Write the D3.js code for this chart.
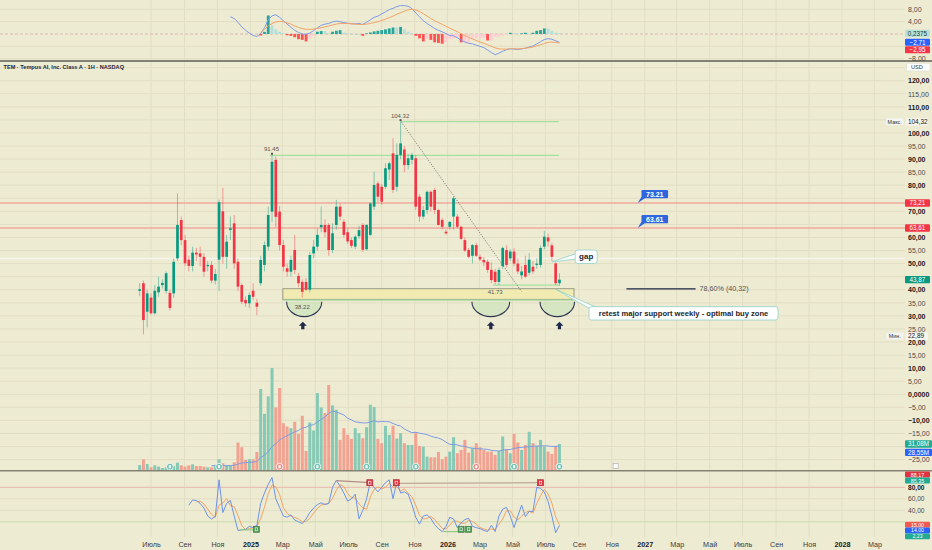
<!DOCTYPE html>
<html><head><meta charset="utf-8">
<script src="https://cdn.jsdelivr.net/npm/d3@7/dist/d3.min.js"></script>
<style>
html,body{margin:0;padding:0;background:#EEEBD3;}
svg{display:block;font-family:"Liberation Sans",Arial,sans-serif;}
</style></head>
<body><svg id="c" width="932" height="550"></svg>
<script>
// ---------------- DATA ----------------
const firstWeek = "2024-06-10";
const open = [39.6,42.5,31.6,37.0,31.0,39.0,41.8,39.5,38.8,38.6, 52.0,66.7,59.0,51.5,49.1,54.2,53.9,52.6,49.0,49.5, 43.5,51.5,70.0,52.6,62.9,65.4,50.7,41.8,36.1,34.8, 39.6,35.0,42.5,49.5,56.5,69.9,89.7,69.9,57.1,48.2, 46.9,55.2,45.3,43.0,43.0,40.0,53.9,56.5,63.9,64.8, 64.8,55.2,64.8,71.8,66.0,62.0,59.0,56.5,60.5,64.8, 55.5,61.0,71.8,80.7,79.4,79.4,86.0,92.2,79.4,91.6, 93.7,87.7,89.7,90.3,75.6,68.0,70.5,77.5,78.2,70.5, 66.7,62.2,64.1,68.0,68.0,64.1,59.0,55.2,53.0,57.1, 52.6,51.4,50.7,47.6,46.9,43.0,49.0,55.2,52.0,54.6, 50.0,45.5,49.5,46.5,48.8,49.5,49.5,56.5,60.0,57.0, 50.1,42.5];
const high = [42.5,43.5,40.0,38.6,41.8,45.0,44.0,47.0,40.0,52.0, 76.9,68.0,61.0,53.0,56.5,56.0,56.5,54.0,51.0,51.0, 48.0,74.5,79.0,61.0,68.0,68.6,52.0,42.5,37.5,39.0, 42.5,36.5,53.0,58.5,71.8,91.45,91.0,72.0,59.0,50.0, 53.0,61.0,46.5,44.0,44.5,54.5,59.0,63.5,71.8,67.0, 65.5,65.4,74.4,73.0,67.0,63.5,60.0,61.0,64.5,65.5, 65.0,73.5,85.2,81.5,80.5,88.4,89.0,98.0,96.0,104.32, 95.0,92.0,92.5,91.5,76.5,72.0,78.0,78.0,79.0,71.0, 67.5,63.0,66.0,75.8,69.0,64.5,60.0,56.0,57.5,58.0, 53.5,52.5,51.5,50.5,48.0,48.5,56.5,57.0,55.5,56.0, 52.0,49.0,53.0,54.0,51.0,52.0,57.0,62.5,61.5,58.0, 50.5,46.3];
const low = [37.5,22.9,25.5,30.5,30.5,37.3,40.5,38.5,32.0,37.0, 51.0,57.0,49.0,47.0,47.0,51.0,49.0,45.0,47.0,42.5, 42.0,39.5,50.0,48.0,59.0,48.0,39.5,34.5,33.5,33.0, 36.0,30.3,41.5,47.0,55.0,66.0,64.0,55.0,47.0,45.0, 45.0,46.0,41.0,37.0,39.5,39.0,52.0,55.0,62.0,60.0, 53.0,54.0,63.0,66.5,60.0,57.5,56.0,55.5,59.5,54.5, 55.0,60.5,70.5,73.5,72.5,78.5,82.0,77.0,77.5,90.0, 85.0,86.0,88.0,70.5,66.0,67.0,69.0,70.0,69.0,64.5, 63.0,61.0,63.0,63.0,63.5,59.0,54.5,52.0,50.1,52.5, 51.0,49.0,46.5,42.5,42.0,41.73,48.0,48.5,51.0,49.0, 46.0,44.0,44.5,45.5,46.0,48.0,48.5,55.5,56.5,51.0, 41.8,41.5];
const close = [40.2,28.4,38.6,31.0,39.6,41.2,42.6,46.3,33.0,50.7, 64.8,59.0,50.1,49.1,54.2,53.5,52.6,46.9,49.5,43.5, 46.0,73.5,52.6,58.4,63.5,50.1,41.2,35.4,34.8,38.0, 37.3,33.5,51.4,57.1,68.6,89.0,67.9,57.1,48.8,46.9, 51.4,47.6,42.5,39.2,40.0,53.3,56.5,61.0,64.8,62.0, 55.2,61.6,71.8,68.0,61.0,58.5,56.8,60.3,62.8,55.3, 64.8,73.0,80.1,75.6,73.7,86.5,88.4,78.2,91.6,96.0, 87.7,90.3,91.6,71.8,68.0,70.5,77.5,71.8,70.5,64.8, 64.1,61.6,66.0,75.0,64.1,59.5,55.0,52.6,57.1,53.0, 51.6,50.5,47.6,43.7,43.0,47.6,56.0,49.5,54.6,50.0, 47.0,47.0,45.0,51.5,47.0,50.0,56.0,60.3,58.5,52.6, 42.5,43.87];
const volumeM = [6.0,12.8,7.2,3.2,5.6,4.0,2.4,3.2,3.2,4.8, 8.8,5.6,4.0,5.6,6.8,4.8,4.8,4.0,3.2,3.2, 6.0,12.8,8.0,6.0,5.6,9.2,32.8,27.2,12.0,12.8, 12.8,21.6,96.8,67.2,88.0,122.0,74.8,98.0,56.0,52.0, 50.0,57.6,43.2,64.8,22.8,56.8,47.2,92.0,74.8,68.0, 101.6,77.2,72.0,36.0,50.0,42.0,37.2,50.0,44.0,38.0, 51.2,78.0,75.2,37.2,32.0,52.8,42.0,52.8,37.6,44.0, 32.0,30.0,30.0,45.2,28.8,28.0,16.0,15.2,15.2,21.6, 12.8,16.0,22.0,39.2,20.0,24.0,36.0,20.8,26.4,32.0, 27.2,24.0,22.0,22.0,18.0,22.8,40.0,24.8,20.0,43.2, 32.8,24.0,30.0,45.6,32.0,28.8,36.0,28.0,22.0,19.2, 28.8,31.08];
// MACD (starts week 24), signal & histogram (start week 32)
const macdStart = 24;
const macdLine = [5.6,5.0,3.8,2.3,1.2,0.3,-0.5,-0.8, 0.2,2.0,4.6,5.9,6.2,5.4,4.3,3.2,2.2,1.2, 0.5,0.0,-0.1,0.3,1.1,2.0,2.8,3.2,3.4,3.9, 4.2,4.0,3.7,3.5,3.3,3.3,3.4,3.1,3.8,4.6, 5.4,5.8,6.5,7.2,7.9,8.3,8.9,9.2,9.2,9.0, 8.2,6.8,5.6,4.3,3.4,2.6,1.8,1.2,0.7,0.1, -0.5,-0.6,-1.2,-2.0,-2.6,-3.0,-3.2,-3.6,-4.0,-4.4, -5.2,-6.0,-6.7,-6.2,-5.6,-5.1,-4.8,-4.9,-5.0,-4.8, -4.6,-4.2,-3.9,-3.2,-2.5,-1.8,-1.5,-1.7,-2.2,-2.71];
const signalStart = 32;
const macdSignal = [0.6,1.5,2.6,3.4,3.9,4.1,4.0,3.6,3.2,2.6, 2.1,1.8,1.5,1.5,1.6,1.8,2.0,2.3,2.6,2.9, 3.2,3.4,3.4,3.4,3.3,3.2,3.1,3.1,3.2,3.4, 3.7,4.0,4.4,4.8,5.3,5.8,6.4,6.9,7.4,7.8, 8.0,7.8,7.3,6.6,5.8,5.0,4.3,3.7,3.1,2.5, 1.9,1.3,0.8,0.1,-0.5,-1.1,-1.6,-2.1,-2.6,-3.0, -3.5,-4.0,-4.5,-4.8,-4.9,-4.9,-4.8,-4.8,-4.8,-4.8, -4.6,-4.4,-4.2,-3.8,-3.5,-3.1,-2.7,-2.6,-2.7,-2.95];
const macdHist = [-0.5,0.7,6.0,2.8,1.5,0.7,0.2,-0.4,-0.6,-1.05, -1.7,-1.9,-2.4,-1.4,-0.6,0.74,0.95,0.95,0.2,0.74, 1.05,1.26,0.4,0.2,0.1,0.05,0.0,-0.6,0.2,0.5, 0.84,1.05,1.26,1.5,1.8,2.1,2.1,2.3,1.5,0.74, 0.2,-0.6,-1.4,-2.4,-1.5,-1.9,-2.7,-2.9,-3.15,-2.7, -1.7,-1.4,-0.9,-2.7,-2.7,-2.7,-1.4,-1.4,-1.4,-1.2, -2.1,-2.1,-0.84,-0.84,-0.6,-0.3,0.4,0.3,0.1,0.2, 0.4,0.1,0.4,1.05,1.26,1.8,1.8,1.05,0.4,0.2375];
// Stochastic %K (starts week 13)
const stochStart = 13;
const stochK = [49,58,57,52,44,30,25,29,93,36, 52,57,30,5,6,7,12,10,14,52, 70,85,97,60,45,30,28,32,23,20, 17,25,36,44,50,53,50,52,80,92, 82,70,56,60,68,25,40,60,90,80, 72,80,88,93,60,90,70,72,68,50, 28,16,30,32,26,15,8,3,12,28, 25,10,18,24,26,12,10,8,5,3, 14,3,30,42,45,30,10,30,49,29, 38,38,80,78,72,55,30,1,14];
// axis labels
const monthTicks = ["2024-07-01","2024-09-01","2024-11-01","2025-01-01","2025-03-01","2025-05-01","2025-07-01","2025-09-01","2025-11-01","2026-01-01","2026-03-01","2026-05-01","2026-07-01","2026-09-01","2026-11-01","2027-01-01","2027-03-01","2027-05-01","2027-07-01","2027-09-01","2027-11-01","2028-01-01","2028-03-01"];
const monthLabels = ["Июль","Сен","Ноя","2025","Мар","Май","Июль","Сен","Ноя","2026","Мар","Май","Июль","Сен","Ноя","2027","Мар","Май","Июль","Сен","Ноя","2028","Мар"];
const priceTicks = d3.range(-25, 121, 5);
const macdTicks = [8, 4, 0, -4, -8];
const stochTicks = [80, 60, 40, 20];
// annotations
const hLevels = [73.21, 63.61];
const earnings = [[8,"up"],[21,"up"],[37,"down"],[47,"up"],[60,"up"],[73,"up"],[89,"down"],[99,"up"],[111,"up"]];

// ---------------- SETUP ----------------
const W = 932, H = 550, BG = "#EEEBD3", GRID = "#E2DEC4";
const UP = "#089981", DN = "#F23645";
const svg = d3.select("#c");
const P = d3.timeParse("%Y-%m-%d");
const weeks = d3.range(open.length).map(i => d3.timeWeek.offset(P(firstWeek), i));
const x = d3.scaleTime().domain([P("2024-07-01"), P("2028-01-01")]).range([151, 842]);
const yP = d3.scaleLinear().domain([20, 120]).range([342, 80.7]);
const yVol = d3.scaleLinear().domain([0, 31.08]).range([470, 444]);
const yM = d3.scaleLinear().domain([-8, 8]).range([58.7, 9.3]);
const yS = d3.scaleLinear().domain([0, 100]).range([533.3, 475.8]);
const xi = i => x(weeks[i]);
const num = v => d3.format(".2f")(v).replace(".", ",");
const last = open.length - 1;
const volMA = volumeM.map((v, i) => i < 19 ? null : d3.mean(volumeM.slice(i - 19, i + 1)));
const kPts = stochK.map((v, k) => [stochStart + k, v]);
const dPts = kPts.map((p, k) => k < 2 ? null : [p[0], d3.mean(stochK.slice(k - 2, k + 1))]).filter(Boolean);

svg.append("rect").attr("width", W).attr("height", H).attr("fill", BG);

// ---------------- TAG LAYOUT (computed first) ----------------
function stack(list, gap) {
  list.sort((a, b) => a.y - b.y);
  for (let i = 1; i < list.length; i++) if (list[i].y < list[i - 1].y + gap) list[i].y = list[i - 1].y + gap;
  return list;
}
const macdTags = stack([
  { y: yM(macdHist[macdHist.length - 1]), text: d3.format(".4f")(macdHist[macdHist.length - 1]).replace(".", ","), bg: "#B4E0D8", fg: "#1d3b36" },
  { y: yM(macdLine[macdLine.length - 1]), text: num(macdLine[macdLine.length - 1]), bg: "#2962FF" },
  { y: yM(macdSignal[macdSignal.length - 1]), text: num(macdSignal[macdSignal.length - 1]), bg: "#F23645" }
], 7.4);
const mainTags = [
  ...hLevels.map(v => ({ y: yP(v), text: num(v), bg: "#F23645" })),
  { y: yP(close[last]), text: num(close[last]), bg: "#089981" },
  ...stack([
    { y: yVol(volumeM[last]), text: num(volumeM[last]) + "M", bg: "#22AB94", w: 27 },
    { y: yVol(volMA[last]), text: num(volMA[last]) + "M", bg: "#2962FF", w: 27 }
  ], 8.4)
];
const stochTopTags = [{ y: 474.6, text: "88,17", bg: "#E0323F" }, { y: 480.6, text: "85,35", bg: "#22AB94" }];
const stochBotTags = stack([
  { y: yS(stochK[stochK.length - 1]), text: num(stochK[stochK.length - 1]), bg: "#2962FF" },
  { y: yS(dPts[dPts.length - 1][1]), text: num(dPts[dPts.length - 1][1]), bg: "#F05A50" },
  { y: yS(2.2), text: "2,23", bg: "#22AB94" }
], 5.8);
const extremes = [[104.32, "Макс.", 0], [22.89, "Мин.", 1.6]];
const clear = (yy, tags, th) => !tags.some(t => Math.abs(t.y - yy) < th);

// ---------------- GRID ----------------
const g = svg.append("g");
monthTicks.forEach(d => g.append("line").attr("x1", x(P(d))).attr("x2", x(P(d)))
  .attr("y1", 0).attr("y2", 537).attr("stroke", GRID).attr("stroke-width", 1));
d3.range(-25, 126, 5).forEach(v => g.append("line").attr("x1", 0).attr("x2", 905)
  .attr("y1", yP(v)).attr("y2", yP(v)).attr("stroke", GRID));
[8, 4, -4, -8].forEach(v => g.append("line").attr("x1", 0).attr("x2", 905)
  .attr("y1", yM(v)).attr("y2", yM(v)).attr("stroke", GRID));
[40, 60].forEach(v => g.append("line").attr("x1", 0).attr("x2", 905)
  .attr("y1", yS(v)).attr("y2", yS(v)).attr("stroke", GRID));
g.append("line").attr("x1", 0).attr("x2", 905).attr("y1", yS(80)).attr("y2", yS(80)).attr("stroke", "#E8B8AE");
g.append("line").attr("x1", 0).attr("x2", 905).attr("y1", yS(20)).attr("y2", yS(20)).attr("stroke", "#C6DDB0");
g.append("line").attr("x1", 0).attr("x2", 905).attr("y1", yM(0)).attr("y2", yM(0))
  .attr("stroke", "#D8B9B0").attr("stroke-dasharray", "3,2");
g.append("line").attr("x1", 0).attr("x2", 905).attr("y1", yP(52)).attr("y2", yP(52))
  .attr("stroke", "#F6F4EC").attr("stroke-width", 1.5);

// ---------------- MACD PANE ----------------
const mg = svg.append("g");
mg.selectAll("rect.h").data(macdHist).join("rect")
  .attr("x", (d, k) => xi(signalStart + k) - 1.4).attr("width", 2.8)
  .attr("y", d => Math.min(yM(d), yM(0))).attr("height", d => Math.max(0.6, Math.abs(yM(d) - yM(0))))
  .attr("fill", (d, k) => {
    const prev = k > 0 ? macdHist[k - 1] : 0;
    if (d >= 0) return d > prev ? "#26A69A" : "#B2DFDB";
    return d < prev ? "#FF5252" : "#FFCDD2";
  });
const lineM = d3.line().x(d => xi(d[0])).y(d => yM(d[1]));
mg.append("path").datum(macdLine.map((v, k) => [macdStart + k, v])).attr("d", lineM)
  .attr("fill", "none").attr("stroke", "#7D9BE8").attr("stroke-width", 1);
mg.append("path").datum(macdSignal.map((v, k) => [signalStart + k, v])).attr("d", lineM)
  .attr("fill", "none").attr("stroke", "#F3A465").attr("stroke-width", 1);

// ---------------- VOLUME ----------------
const vg = svg.append("g");
vg.selectAll("rect").data(volumeM).join("rect")
  .attr("x", (d, i) => xi(i) - 1.5).attr("width", 3)
  .attr("y", d => yVol(d)).attr("height", d => 470 - yVol(d))
  .attr("fill", (d, i) => close[i] >= open[i] ? "#86C9B5" : "#F1A291");
vg.append("path").datum(volMA.map((v, i) => [i, v]).filter(d => d[1] !== null))
  .attr("d", d3.line().x(d => xi(d[0])).y(d => yVol(d[1])))
  .attr("fill", "none").attr("stroke", "#7E9CE6").attr("stroke-width", 1);
earnings.forEach(([i, t]) => {
  const cx = xi(i), cy = 466.7;
  vg.append("circle").attr("cx", cx).attr("cy", cy).attr("r", 3.4)
    .attr("fill", t === "up" ? "#6FC3B2" : "#EE8F86").attr("stroke", "#fff").attr("stroke-width", 0.8);
  vg.append("rect").attr("x", cx - 1.1).attr("y", cy - 1.5).attr("width", 2.2).attr("height", 3).attr("fill", "#fff");
});
vg.append("rect").attr("x", x(P("2026-11-08")) - 2.5).attr("y", 463.5).attr("width", 5).attr("height", 5)
  .attr("fill", "#fff").attr("stroke", "#bbb").attr("stroke-width", 0.8);

// ---------------- ANNOTATIONS (under candles) ----------------
const an = svg.append("g");
hLevels.forEach(v => an.append("line").attr("x1", 0).attr("x2", 905).attr("y1", yP(v)).attr("y2", yP(v))
  .attr("stroke", "#F08A86").attr("stroke-width", 1.1));
const zone = { start: "2025-03-02", end: "2026-08-23", lo: 36.3, hi: 40.4 };
an.append("rect").attr("x", x(P(zone.start))).attr("y", yP(zone.hi))
  .attr("width", x(P(zone.end)) - x(P(zone.start))).attr("height", yP(zone.lo) - yP(zone.hi))
  .attr("fill", "#F1EBB2").attr("stroke", "#9A9A88").attr("stroke-width", 1);
an.append("line").attr("x1", x(P(zone.start))).attr("x2", x(P(zone.end)))
  .attr("y1", yP(zone.lo) + 0.8).attr("y2", yP(zone.lo) + 0.8).attr("stroke", "#A8DDA0").attr("stroke-width", 1.2);
[["2025-02-06", 91.45], ["2025-10-07", 104.32]].forEach(([d, v]) =>
  an.append("line").attr("x1", x(P(d))).attr("x2", x(P("2026-07-26"))).attr("y1", yP(v)).attr("y2", yP(v))
    .attr("stroke", "#A6E0A0").attr("stroke-width", 1.3));
an.append("line").attr("x1", x(P("2026-03-26"))).attr("x2", x(P("2026-07-26"))).attr("y1", yP(41.73)).attr("y2", yP(41.73))
  .attr("stroke", "#A6E0A0").attr("stroke-width", 1.2);
an.append("line").attr("x1", x(P("2025-10-07"))).attr("y1", yP(104.32))
  .attr("x2", x(P("2026-05-18"))).attr("y2", yP(39.25))
  .attr("stroke", "#6d6d6d").attr("stroke-width", 1).attr("stroke-dasharray", "1,1.6");
[["2025-03-09", "2025-05-13"], ["2026-02-15", "2026-04-26"], ["2026-06-21", "2026-08-24"]].forEach(([a, b]) => {
  const x1 = x(P(a)), x2 = x(P(b)), yt = yP(35.4), rx = (x2 - x1) / 2, ry = yP(29.7) - yt;
  an.append("path").attr("d", `M${x1},${yt} A${rx},${ry} 0 0 0 ${x2},${yt} Z`)
    .attr("fill", "rgba(196,226,180,0.55)").attr("stroke", "none");
  an.append("path").attr("d", `M${x1},${yt} A${rx},${ry} 0 0 0 ${x2},${yt}`)
    .attr("fill", "none").attr("stroke", "#2c3550").attr("stroke-width", 1.1);
});
["2025-04-08", "2026-03-22", "2026-07-27"].forEach(d => {
  const cx = x(P(d)), cy = yP(26.2);
  an.append("path").attr("d", `M${cx},${cy - 4} L${cx + 4},${cy} L${cx + 1.6},${cy} L${cx + 1.6},${cy + 3.5} L${cx - 1.6},${cy + 3.5} L${cx - 1.6},${cy} L${cx - 4},${cy} Z`)
    .attr("fill", "#1f2a48");
});

// ---------------- CANDLES ----------------
const cg = svg.append("g");
open.forEach((o, i) => {
  const c = close[i], col = c >= o ? UP : DN, cx = xi(i);
  cg.append("line").attr("x1", cx).attr("x2", cx).attr("y1", yP(high[i])).attr("y2", yP(low[i]))
    .attr("stroke", col).attr("stroke-opacity", 0.45).attr("stroke-width", 1);
  cg.append("rect").attr("x", cx - 1.35).attr("width", 2.7)
    .attr("y", yP(Math.max(o, c))).attr("height", Math.max(0.8, Math.abs(yP(o) - yP(c))))
    .attr("fill", col);
});

// ---------------- TEXT ANNOTATIONS ----------------
const tx = svg.append("g").attr("font-size", 6).attr("fill", "#555");
[["2025-02-09", 91.45, "91.45", -4], ["2025-10-05", 104.32, "104.32", -4], ["2025-04-07", 33.5, "38.22", 2], ["2026-03-30", 39.0, "41.73", 2]]
  .forEach(([d, v, t, dy]) => tx.append("text").attr("x", x(P(d))).attr("y", yP(v) + dy)
    .attr("text-anchor", "middle").text(t));
[[35, 91.45], [69, 104.32]].forEach(([i, v]) => svg.append("rect").attr("x", xi(i) - 1).attr("y", yP(v) - 2.5)
  .attr("width", 2).attr("height", 2).attr("fill", "#555"));

(function () {
  const ax = x(P("2026-07-13")), ay = yP(50.7);
  const bx = ax + 23.3, by = ay - 11.7, bw = 22, bh = 13.4;
  svg.append("path").attr("d", `M${ax},${ay} L${bx + 1},${by + 3.5} L${bx + 1},${by + 9}Z`)
    .attr("fill", "#fff").attr("stroke", "#8FD0C8").attr("stroke-width", 0.8);
  svg.append("rect").attr("x", bx).attr("y", by).attr("width", bw).attr("height", bh).attr("rx", 2.5)
    .attr("fill", "#fff").attr("stroke", "#8FD0C8").attr("stroke-width", 0.8);
  svg.append("text").attr("x", bx + bw / 2).attr("y", by + bh / 2 + 2.6).attr("text-anchor", "middle")
    .attr("font-size", 8).attr("font-weight", "bold").attr("fill", "#1e1e2a").text("gap");
})();
(function () {
  const ax = x(P("2026-07-19")), ay = yP(40.3);
  const bx = 589, by = 306.7, bw = 189, bh = 13.3;
  svg.append("path").attr("d", `M${ax},${ay} L${bx + 1},${by + 2} L${bx + 7},${by + 0.5}Z`)
    .attr("fill", "#fff").attr("stroke", "#8FD0C8").attr("stroke-width", 0.8);
  svg.append("rect").attr("x", bx).attr("y", by).attr("width", bw).attr("height", bh).attr("rx", 2.5)
    .attr("fill", "#fff").attr("stroke", "#8FD0C8").attr("stroke-width", 0.8);
  svg.append("text").attr("x", bx + bw / 2).attr("y", by + bh / 2 + 2.6).attr("text-anchor", "middle")
    .attr("font-size", 7.6).attr("font-weight", "bold").attr("fill", "#1e1e2a")
    .text("retest major support weekly - optimal buy zone");
})();
svg.append("line").attr("x1", x(P("2026-11-28"))).attr("x2", x(P("2027-04-05")))
  .attr("y1", yP(40.32)).attr("y2", yP(40.32)).attr("stroke", "#1b2442").attr("stroke-width", 1.4);
svg.append("text").attr("x", x(P("2027-04-05")) + 4).attr("y", yP(40.32) + 2.5)
  .attr("font-size", 7.2).attr("fill", "#555").text("78,60% (40,32)");
hLevels.forEach(v => {
  const ax = x(P("2026-12-19")), ay = yP(v);
  svg.append("path").attr("d", `M${ax},${ay} L${ax + 3.5},${ay - 6} L${ax + 7},${ay - 4.7}Z`).attr("fill", "#2F66DD");
  svg.append("rect").attr("x", ax + 3.7).attr("y", ay - 13).attr("width", 26.6).attr("height", 8.3).attr("rx", 1.2)
    .attr("fill", "#2F66DD");
  svg.append("text").attr("x", ax + 17).attr("y", ay - 6.2).attr("text-anchor", "middle")
    .attr("font-size", 7).attr("font-weight", "bold").attr("fill", "#fff").text(d3.format(".2f")(v));
});

// ---------------- STOCHASTIC ----------------
const sg = svg.append("g");
const lineS = d3.line().x(d => xi(d[0])).y(d => yS(d[1]));
sg.append("path").datum(dPts).attr("d", lineS).attr("fill", "none").attr("stroke", "#F3A465").attr("stroke-width", 1);
sg.append("path").datum(kPts).attr("d", lineS).attr("fill", "none").attr("stroke", "#6C93EA").attr("stroke-width", 1);
[["2025-06-09", 91.5, "2025-08-10", 88, "#B58C86"], ["2025-09-28", 87, "2026-06-22", 88, "#BFA898"],
 ["2024-12-12", 6, "2025-01-12", 6, "#8FCC80"], ["2025-12-24", 3, "2026-02-09", 3, "#8FCC80"]]
  .forEach(([a, va, b, vb, col]) => sg.append("line").attr("x1", x(P(a))).attr("y1", yS(va))
    .attr("x2", x(P(b))).attr("y2", yS(vb)).attr("stroke", col).attr("stroke-width", 1.2));
[["2025-08-10", 88, "#E0323F"], ["2025-09-28", 88, "#E0323F"], ["2026-06-22", 88, "#E0323F"],
 ["2025-01-12", 7, "#4E9A55"], ["2026-01-26", 7, "#4E9A55"], ["2026-02-09", 7, "#4E9A55"]]
  .forEach(([d, v, col]) => {
    const cx = x(P(d)), cy = yS(v);
    sg.append("rect").attr("x", cx - 3).attr("y", cy - 3).attr("width", 6).attr("height", 6).attr("fill", col)
      .attr("stroke", d3.color(col).darker(0.8)).attr("stroke-width", 0.6);
    sg.append("rect").attr("x", cx - 1.2).attr("y", cy - 1.5).attr("width", 2.4).attr("height", 3)
      .attr("fill", "none").attr("stroke", "#fff").attr("stroke-width", 0.6);
  });

// ---------------- SEPARATORS ----------------
svg.append("line").attr("x1", 0).attr("x2", W).attr("y1", 61).attr("y2", 61).attr("stroke", "#838174").attr("stroke-width", 1.8);
svg.append("line").attr("x1", 0).attr("x2", W).attr("y1", 470.8).attr("y2", 470.8).attr("stroke", "#838174").attr("stroke-width", 1.6);

// ---------------- AXES ----------------
function styleAxis(sel, boldFn, fs) {
  sel.select(".domain").remove();
  sel.selectAll("line").remove();
  sel.selectAll("text").attr("font-size", fs || 7).attr("fill", d => boldFn(d) ? "#131722" : "#4a4a4a")
    .attr("font-weight", d => boldFn(d) ? "bold" : "normal").attr("font-family", "Liberation Sans, Arial, sans-serif");
}
const fmtP = v => v === 0 ? "0,0000" : num(v);
const extY = extremes.map(([v]) => ({ y: yP(v) }));
const pTicks = priceTicks.filter(v => clear(yP(v), mainTags, 6.6) && clear(yP(v), extY, 4));
svg.append("g").attr("transform", "translate(908,0)")
  .call(d3.axisRight(yP).tickValues(pTicks).tickFormat(fmtP).tickSize(0).tickPadding(0))
  .call(s => styleAxis(s, d => d % 10 === 0));
svg.append("g").attr("transform", "translate(908,0)")
  .call(d3.axisRight(yM).tickValues(macdTicks.filter(v => clear(yM(v), macdTags, 6.4))).tickFormat(num).tickSize(0).tickPadding(0))
  .call(s => styleAxis(s, d => false));
svg.append("g").attr("transform", "translate(908,0)")
  .call(d3.axisRight(yS).tickValues(stochTicks.filter(v => clear(yS(v), stochBotTags, 6.4))).tickFormat(num).tickSize(0).tickPadding(0))
  .call(s => styleAxis(s, d => d === 80, 6.6));
const xa = svg.append("g").attr("transform", "translate(0,541.5)")
  .call(d3.axisBottom(x).tickValues(monthTicks.map(P)).tickFormat((d, i) => monthLabels[i]).tickSize(0).tickPadding(0));
styleAxis(xa, d => d.getMonth() === 0);
xa.selectAll("text").attr("fill", d => d.getMonth() === 0 ? "#131722" : "#3a3a3a").attr("font-size", 7.2);

// ---------------- PRICE TAGS ----------------
function tag(t, h, fs) {
  const w = t.w || 25;
  svg.append("rect").attr("x", 905).attr("y", t.y - h / 2).attr("width", w).attr("height", h).attr("rx", 1)
    .attr("fill", t.bg);
  svg.append("text").attr("x", 905 + w / 2).attr("y", t.y + (fs || 6.3) * 0.36).attr("text-anchor", "middle")
    .attr("font-size", fs || 6.3).attr("fill", t.fg || "#fff").text(t.text);
}
macdTags.forEach(t => tag(t, 7));
mainTags.forEach(t => tag(t, 7.4));
stochTopTags.forEach(t => tag(t, 6, 5.4));
stochBotTags.forEach(t => tag(t, 5.8, 5.2));

extremes.forEach(([v, lab, shift]) => {
  const yy = yP(v) + shift;
  svg.append("rect").attr("x", 906).attr("y", yy - 3.6).attr("width", 22).attr("height", 7.4).attr("fill", "#F6F5EE");
  svg.append("text").attr("x", 908).attr("y", yy + 2.2).attr("font-size", 6.4).attr("fill", "#131722").text(num(v));
  svg.append("rect").attr("x", 886).attr("y", yy - 3.3).attr("width", 17.5).attr("height", 6.6).attr("fill", "#F4F5F2");
  svg.append("text").attr("x", 894.7).attr("y", yy + 2).attr("text-anchor", "middle").attr("font-size", 5.4)
    .attr("fill", "#333").text(lab);
});
svg.append("rect").attr("x", 906.5).attr("y", 63.3).attr("width", 23.5).attr("height", 7.6).attr("rx", 1.2)
  .attr("fill", "#fff").attr("stroke", "#d8d6cc").attr("stroke-width", 0.6);
svg.append("text").attr("x", 911).attr("y", 69.2).attr("font-size", 5.6).attr("fill", "#333").text("USD");
svg.append("text").attr("x", 3.5).attr("y", 69.3).attr("font-size", 5.6).attr("font-weight", "bold")
  .attr("fill", "#1b1f3a").text("TEM · Tempus AI, Inc. Class A · 1H · NASDAQ");
</script></body></html>
